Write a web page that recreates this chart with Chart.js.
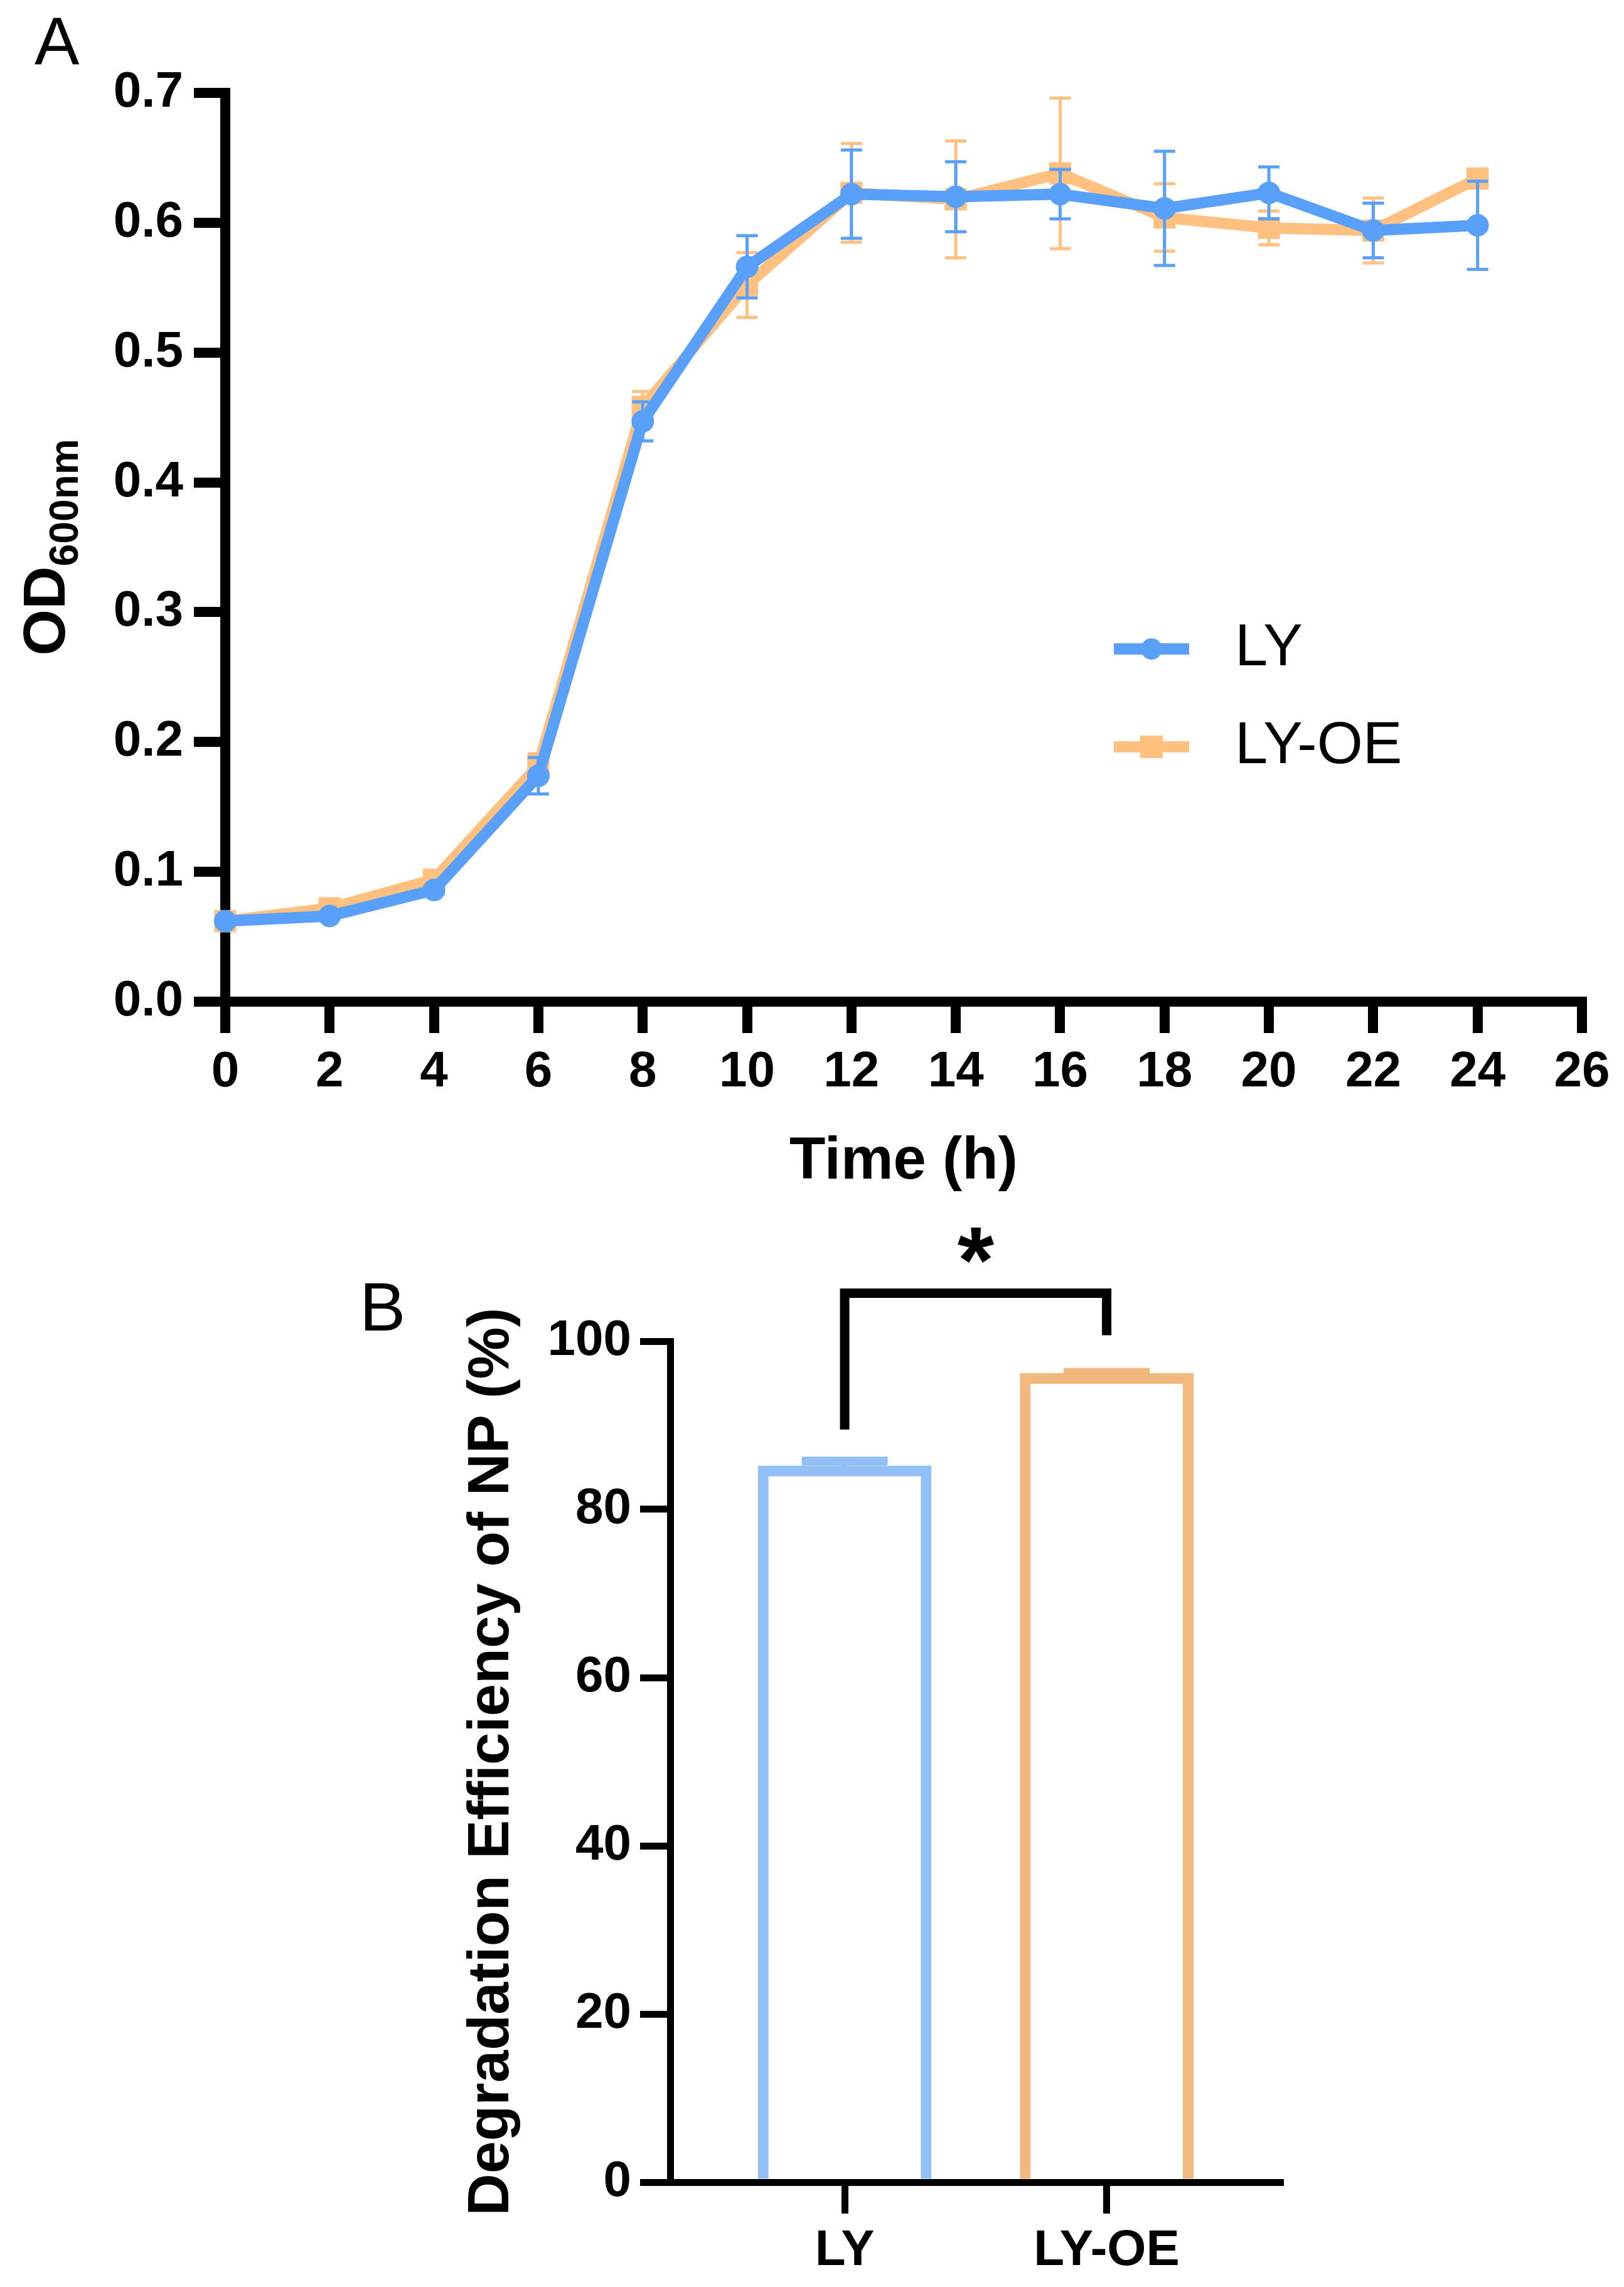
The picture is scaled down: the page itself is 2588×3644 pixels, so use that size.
<!DOCTYPE html>
<html>
<head>
<meta charset="utf-8">
<script src="https://cdn.jsdelivr.net/npm/chart.js@4.4.1/dist/chart.umd.min.js"></script>
<style>
  html, body { margin: 0; padding: 0; background: #fff; }
  #wrap { position: relative; width: 2588px; height: 3644px; background: #fff; }
  canvas { position: absolute; left: 0; }
  #growth { top: 0; }
  #degrade { top: 1900px; }
</style>
</head>
<body>
<div id="wrap">
  <canvas id="growth" width="2588" height="1900"></canvas>
  <canvas id="degrade" width="2588" height="1744"></canvas>
</div>
<script>
// A: growth curve (OD600 vs time)
const hours = [0, 2, 4, 6, 8, 10, 12, 14, 16, 18, 20, 22, 24];
const lyMean = [0.062, 0.066, 0.086, 0.174, 0.447, 0.566, 0.622, 0.620, 0.622, 0.611, 0.623, 0.594, 0.598];
const lySd   = [0.002, 0.002, 0.003, 0.014, 0.015, 0.024, 0.034, 0.027, 0.019, 0.044, 0.020, 0.021, 0.034];
const oeMean = [0.062, 0.072, 0.094, 0.182, 0.458, 0.552, 0.623, 0.618, 0.638, 0.604, 0.596, 0.594, 0.634];
const oeSd   = [0.003, 0.003, 0.006, 0.009, 0.012, 0.025, 0.038, 0.045, 0.058, 0.026, 0.013, 0.025, 0.005];
const hourTicks = [0, 2, 4, 6, 8, 10, 12, 14, 16, 18, 20, 22, 24, 26];
const odTicks = [0, 0.1, 0.2, 0.3, 0.4, 0.5, 0.6, 0.7];

// B: degradation efficiency
const groups = ['LY', 'LY-OE'];
const degMean = [85.2, 96.2];
const degSd = [0.55, 0.1];
const degTicks = [0, 20, 40, 60, 80, 100];
// significance bracket, in data units
const sig = { from: 0, to: 1, leftEnd: 89.5, top: 105.7, rightEnd: 100.7, markAt: 111.4, mark: '*' };

const FONT = "'Liberation Sans', Arial, Helvetica, sans-serif";
Chart.defaults.font.family = FONT;
Chart.defaults.color = '#000';

const BLUE = '#58A0FA';
const ORANGE = '#FFC080';
const BAR_BLUE = '#93BFF7';
const BAR_ORANGE = '#F2B87D';

// error bars under each line dataset
const lineErrors = {
    id: 'lineErrors',
    beforeDatasetDraw(chart, args) {
        const ds = chart.data.datasets[args.index];
        if (!ds.errors) return;
        const ys = chart.scales.y;
        const ctx = chart.ctx;
        ctx.save();
        ctx.strokeStyle = ds.borderColor;
        ctx.lineWidth = 5;
        args.meta.data.forEach(function(pt, i) {
            const m = ds.data[i].y, e = ds.errors[i];
            const hi = ys.getPixelForValue(m + e);
            const lo = ys.getPixelForValue(m - e);
            ctx.beginPath();
            ctx.moveTo(pt.x, hi); ctx.lineTo(pt.x, lo);
            ctx.moveTo(pt.x - 17, hi); ctx.lineTo(pt.x + 17, hi);
            ctx.moveTo(pt.x - 17, lo); ctx.lineTo(pt.x + 17, lo);
            ctx.stroke();
        });
        ctx.restore();
    }
};

// legend inside the plot + y title with subscript + panel letter
const decorA = {
    id: 'decorA',
    afterDraw(chart) {
        const ctx = chart.ctx;
        const area = chart.chartArea;

        chart.data.datasets.forEach(function(ds, i) {
            const y = 1034 + i * 156;
            ctx.save();
            ctx.strokeStyle = ds.borderColor;
            ctx.lineWidth = 18;
            ctx.beginPath(); ctx.moveTo(1775, y); ctx.lineTo(1895, y); ctx.stroke();
            ctx.fillStyle = ds.borderColor;
            if (ds.pointStyle === 'rect') {
                ctx.fillRect(1835 - 18, y - 18, 36, 36);
            } else {
                ctx.beginPath(); ctx.arc(1835, y, 17, 0, Math.PI * 2); ctx.fill();
            }
            ctx.fillStyle = '#000';
            ctx.font = '94px ' + FONT;
            ctx.textAlign = 'left';
            ctx.textBaseline = 'middle';
            ctx.fillText(ds.label, 1968, y);
            ctx.restore();
        });

        ctx.save();
        ctx.fillStyle = '#000';
        ctx.font = 'bold 95px ' + FONT;
        const w1 = ctx.measureText('OD').width;
        ctx.font = 'bold 64px ' + FONT;
        const w2 = ctx.measureText('600nm').width;
        const cy = (area.top + area.bottom) / 2;
        ctx.translate(103, cy + (w1 + w2) / 2);
        ctx.rotate(-Math.PI / 2);
        ctx.textAlign = 'left';
        ctx.textBaseline = 'alphabetic';
        ctx.font = 'bold 95px ' + FONT;
        ctx.fillText('OD', 0, 0);
        ctx.font = 'bold 64px ' + FONT;
        ctx.fillText('600nm', w1, 21);
        ctx.restore();

        ctx.save();
        ctx.fillStyle = '#000';
        ctx.font = '107px ' + FONT;
        ctx.textBaseline = 'alphabetic';
        ctx.fillText('A', 55, 103);
        ctx.restore();
    }
};

new Chart(document.getElementById('growth'), {
    type: 'line',
    data: {
        datasets: [
            {
                label: 'LY',
                data: hours.map((h, i) => ({ x: h, y: lyMean[i] })),
                errors: lySd,
                borderColor: BLUE,
                backgroundColor: BLUE,
                borderWidth: 18,
                borderJoinStyle: 'round',
                pointStyle: 'circle',
                pointRadius: 18,
                pointBorderWidth: 0,
                tension: 0,
                clip: false
            },
            {
                label: 'LY-OE',
                data: hours.map((h, i) => ({ x: h, y: oeMean[i] })),
                errors: oeSd,
                borderColor: ORANGE,
                backgroundColor: ORANGE,
                borderWidth: 18,
                borderJoinStyle: 'round',
                pointStyle: 'rect',
                pointRadius: 25,
                pointBorderWidth: 0,
                tension: 0,
                clip: false
            }
        ]
    },
    options: {
        responsive: false,
        animation: false,
        devicePixelRatio: 1,
        layout: { padding: { left: 0, top: 148, right: 67, bottom: 0 } },
        plugins: { legend: { display: false }, tooltip: { enabled: false } },
        scales: {
            x: {
                type: 'linear',
                min: 0,
                max: 26,
                afterBuildTicks: s => { s.ticks = hourTicks.map(v => ({ value: v })); },
                afterFit: s => { s.height = 304; },
                ticks: { font: { size: 80, weight: 'bold' }, padding: 15, maxRotation: 0, autoSkip: false },
                grid: { drawOnChartArea: false, tickLength: 50, lineWidth: 16, color: '#000' },
                border: { width: 16, color: '#000' },
                title: {
                    display: true,
                    text: 'Time (h)',
                    color: '#000',
                    font: { size: 94, weight: 'bold', lineHeight: 1 },
                    padding: { top: 0, bottom: 1 }
                }
            },
            y: {
                min: 0,
                max: 0.7,
                afterBuildTicks: s => { s.ticks = odTicks.map(v => ({ value: v })); },
                afterFit: s => { s.width = 359; },
                ticks: { font: { size: 80, weight: 'bold' }, padding: 17, callback: v => v.toFixed(1) },
                grid: { drawOnChartArea: false, tickLength: 50, lineWidth: 16, color: '#000' },
                border: { width: 16, color: '#000' }
            }
        }
    },
    plugins: [lineErrors, decorA]
});

// error caps on the bars
const barErrors = {
    id: 'barErrors',
    afterDatasetDraw(chart, args) {
        const ds = chart.data.datasets[args.index];
        if (!ds.errors) return;
        const ys = chart.scales.y;
        const ctx = chart.ctx;
        ctx.save();
        args.meta.data.forEach(function(bar, i) {
            const m = ds.data[i].y, e = ds.errors[i];
            const hi = ys.getPixelForValue(m + e);
            const lo = ys.getPixelForValue(m - e);
            ctx.fillStyle = ds.borderColor[i];
            ctx.fillRect(bar.x - 5, hi, 10, lo - hi);
            ctx.fillRect(bar.x - 68.5, hi - 7, 137, 14);
            ctx.fillRect(bar.x - 68.5, lo - 7, 137, 14);
        });
        ctx.restore();
    }
};

// bracket, star, rotated y title, panel letter
const decorB = {
    id: 'decorB',
    afterDraw(chart) {
        const ctx = chart.ctx;
        const xs = chart.scales.x, ys = chart.scales.y;
        const area = chart.chartArea;
        const x1 = xs.getPixelForValue(sig.from + 1);
        const x2 = xs.getPixelForValue(sig.to + 1);

        ctx.save();
        ctx.strokeStyle = '#000';
        ctx.lineWidth = 15;
        ctx.lineJoin = 'miter';
        ctx.lineCap = 'butt';
        ctx.beginPath();
        ctx.moveTo(x1, ys.getPixelForValue(sig.leftEnd));
        ctx.lineTo(x1, ys.getPixelForValue(sig.top));
        ctx.lineTo(x2, ys.getPixelForValue(sig.top));
        ctx.lineTo(x2, ys.getPixelForValue(sig.rightEnd));
        ctx.stroke();

        ctx.fillStyle = '#000';
        ctx.font = 'bold 150px ' + FONT;
        ctx.textAlign = 'center';
        ctx.textBaseline = 'alphabetic';
        const m = ctx.measureText(sig.mark);
        const cy = ys.getPixelForValue(sig.markAt);
        ctx.fillText(sig.mark, (x1 + x2) / 2, cy + (m.actualBoundingBoxAscent - m.actualBoundingBoxDescent) / 2);
        ctx.restore();

        ctx.save();
        ctx.fillStyle = '#000';
        ctx.font = 'bold 93px ' + FONT;
        ctx.translate(810, (area.top + area.bottom) / 2);
        ctx.rotate(-Math.PI / 2);
        ctx.textAlign = 'center';
        ctx.textBaseline = 'alphabetic';
        ctx.fillText('Degradation Efficiency of NP (%)', 0, 0);
        ctx.restore();

        ctx.save();
        ctx.fillStyle = '#000';
        ctx.font = '110px ' + FONT;
        ctx.textBaseline = 'alphabetic';
        ctx.fillText('B', 573, 220);
        ctx.restore();
    }
};

new Chart(document.getElementById('degrade'), {
    type: 'bar',
    data: {
        datasets: [{
            label: 'Degradation',
            data: groups.map((g, i) => ({ x: i + 1, y: degMean[i] })),
            errors: degSd,
            borderColor: [BAR_BLUE, BAR_ORANGE],
            backgroundColor: 'rgba(255,255,255,0)',
            borderWidth: 17,
            borderSkipped: 'start',
            barPercentage: 0.663,
            categoryPercentage: 1
        }]
    },
    options: {
        responsive: false,
        animation: false,
        devicePixelRatio: 1,
        layout: { padding: { left: 0, top: 237, right: 548, bottom: 0 } },
        plugins: { legend: { display: false }, tooltip: { enabled: false } },
        scales: {
            x: {
                type: 'linear',
                offset: false,
                min: 0.334,
                max: 2.662,
                afterBuildTicks: s => { s.ticks = groups.map((g, i) => ({ value: i + 1 })); },
                afterFit: s => { s.height = 167; },
                ticks: { font: { size: 80, weight: 'bold' }, padding: 12, maxRotation: 0, autoSkip: false, callback: v => groups[Math.round(v) - 1] },
                grid: { offset: false, drawOnChartArea: false, tickLength: 50, lineWidth: 11, color: '#000' },
                border: { width: 11, color: '#000' }
            },
            y: {
                min: 0,
                max: 100,
                afterBuildTicks: s => { s.ticks = degTicks.map(v => ({ value: v })); },
                afterFit: s => { s.width = 1068; },
                ticks: { font: { size: 80, weight: 'bold' }, padding: 14 },
                grid: { drawOnChartArea: false, tickLength: 48, lineWidth: 11, color: '#000' },
                border: { width: 11, color: '#000' }
            }
        }
    },
    plugins: [barErrors, decorB]
});
</script>
</body>
</html>
